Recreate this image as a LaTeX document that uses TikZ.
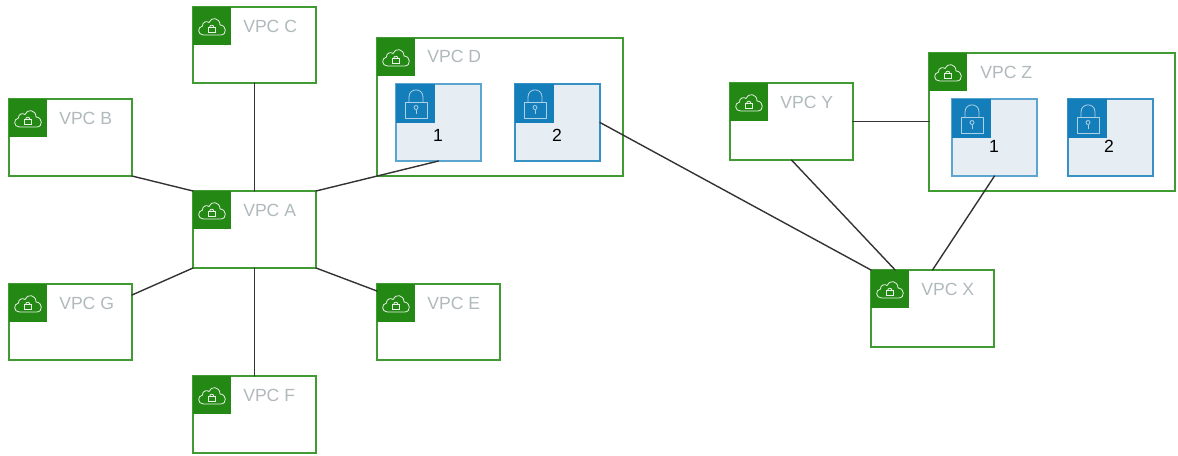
\documentclass[tikz,border=0pt]{standalone}
\usepackage{fontspec}
\setmainfont{Liberation Sans}
\definecolor{vgreen}{HTML}{248814}
\definecolor{vline}{HTML}{3F9B32}
\definecolor{vgrey}{HTML}{B0B9BC}
\definecolor{sblue}{HTML}{147EBA}
\definecolor{slight}{HTML}{5BA5D0}
\definecolor{sfill}{HTML}{E6EEF4}
\tikzset{
  vpcbox/.style={draw=vline,line width=1.1pt,fill=white,anchor=north west,inner sep=0pt,outer sep=0pt},
  subbox/.style={draw=sblue!85!white,line width=0.85pt,fill=sfill,anchor=north west,inner sep=0pt,outer sep=0pt,minimum width=63.75pt,minimum height=57.75pt},
  subboxb/.style={subbox,draw=slight,line width=1.3pt},
  vpclabel/.style={text=vgrey,font=\fontsize{13.2}{15}\selectfont,anchor=west,inner sep=0pt},
  numlabel/.style={text=black,font=\fontsize{13.2}{15}\selectfont,inner sep=0pt},
  link/.style={draw=black!80,line width=1.05pt,line cap=round},
  vpcicon/.pic={
    \fill[vgreen] (0,0) rectangle (38,38);
    \draw[white!90!vgreen,line width=0.6pt,line join=round]
      (10.5,28) .. controls (4.5,28) and (4,20) .. (9.5,19)
      .. controls (9,15) and (14,13.5) .. (16,15.5)
      .. controls (18,9.5) and (27,10.5) .. (27,18)
      .. controls (33.5,18) and (34.5,28) .. (27.5,28) -- cycle;
    \draw[white!90!vgreen,line width=0.6pt] (15,20.5) rectangle (22.5,25.5);
    \draw[white!90!vgreen,line width=0.6pt] (16.6,20.5) .. controls (16.6,17.4) and (20.9,17.4) .. (20.9,20.5);
  },
  lockicon/.pic={
    \fill[sblue] (0,0) rectangle (38.5,38.5);
    \draw[white!65!sblue,line width=0.6pt,line join=round] (9,18) rectangle (31,34);
    \draw[white!65!sblue,line width=0.6pt] (13,18) -- (13,13) .. controls (13,3.5) and (27,3.5) .. (27,13) -- (27,18);
    \draw[white!65!sblue,line width=0.6pt] (20,23.5) circle (2);
    \draw[white!65!sblue,line width=0.6pt] (20,25.5) -- (20,30);
  }
}
\newcommand{\vpc}[5]{%
  \node[vpcbox,minimum width=#4*0.75pt,minimum height=#5*0.75pt] (#1) at (#2,#3) {};
  \pic at (#2,#3) {vpcicon};
}
\begin{document}
\begin{tikzpicture}[x=0.75pt,y=-0.75pt]
\useasboundingbox (0,0) rectangle (1178,455);
\vpc{C}{193}{7}{123}{76}
\vpc{B}{9}{99}{123}{77}
\vpc{A}{193}{191}{123}{77}
\vpc{G}{9}{284}{123}{76}
\vpc{E}{377}{284}{123}{76}
\vpc{F}{193}{376}{123}{77}
\vpc{D}{377}{38}{246}{138}
\vpc{Y}{730}{83}{123}{77}
\vpc{Z}{929}{53}{246}{138}
\vpc{X}{871}{270}{123}{77}
\node[vpclabel] (lC) at (243,26) {VPC C};
\node[vpclabel] (lB) at (59,118) {VPC B};
\node[vpclabel] (lA) at (243,210) {VPC A};
\node[vpclabel] (lG) at (59,303) {VPC G};
\node[vpclabel] (lE) at (427,303) {VPC E};
\node[vpclabel] (lF) at (243,395) {VPC F};
\node[vpclabel] (lD) at (427,56) {VPC D};
\node[vpclabel] (lY) at (780,102) {VPC Y};
\node[vpclabel] (lZ) at (980,72) {VPC Z};
\node[vpclabel] (lX) at (921,289) {VPC X};
\node[subboxb] (D1) at (396,84) {};
\node[subbox] (D2) at (515,84) {};
\node[subboxb] (Z1) at (952,99) {};
\node[subbox] (Z2) at (1068,99) {};
\pic at (396,84) {lockicon};
\pic at (515,84) {lockicon};
\pic at (952,99) {lockicon};
\pic at (1068,99) {lockicon};
\node[numlabel] (n1) at (438,135) {1};
\node[numlabel] (n2) at (557,135) {2};
\node[numlabel] (n3) at (994,146) {1};
\node[numlabel] (n4) at (1109,146) {2};
\draw[link] (C.south) -- (A.north);
\draw[link] (F.north) -- (A.south);
\draw[link] (B.south east) -- (A.north west);
\draw[link] ([yshift=20.25pt]G.east) -- (A.south west);
\draw[link] (A.south east) -- ([yshift=23.25pt]E.west);
\draw[link] (A.north east) -- (D1.south);
\draw[link] (D2.east) -- (X.north west);
\draw[link] (Y.east) -- (Z.west |- Y.east);
\draw[link] (Y.south) -- ([xshift=-28pt]X.north);
\draw[link] (Z1.south) -- (X.north);
\end{tikzpicture}
\end{document}
